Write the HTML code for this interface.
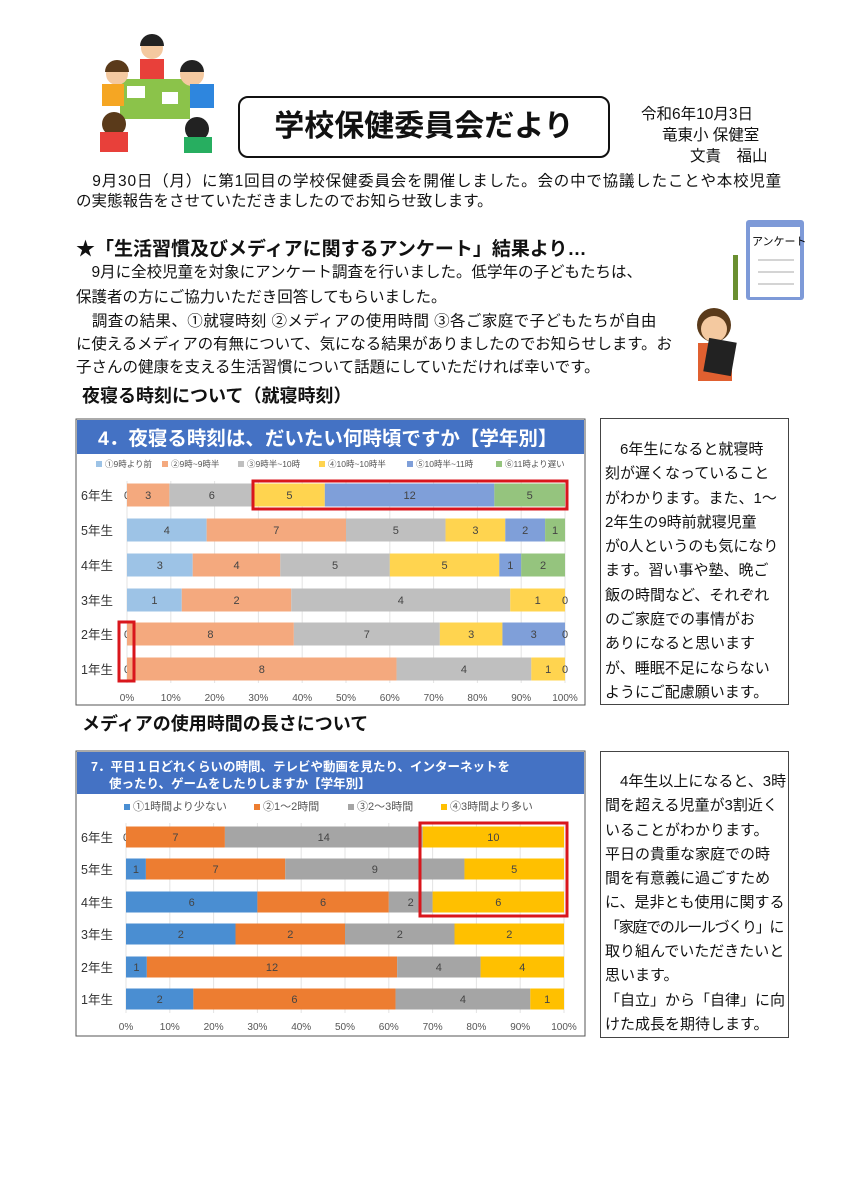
<!DOCTYPE html>
<html><head><meta charset="utf-8">
<style>
body{margin:0;width:849px;height:1200px;background:#fff;position:relative;overflow:hidden;font-family:"Liberation Sans","Noto Sans CJK JP",sans-serif;color:#111}
.t{position:absolute;white-space:nowrap;font-size:15.5px;line-height:20px}
.b{font-weight:bold}
.box{position:absolute;border:1px solid #444;background:#fff}
</style></head><body>
<svg style="position:absolute;left:92px;top:34px" width="130" height="120">
<rect x="28" y="45" width="70" height="40" fill="#8bc34a"/>
<rect x="35" y="52" width="18" height="12" fill="#fff"/><rect x="70" y="58" width="16" height="12" fill="#fff"/>
<circle cx="60" cy="14" r="11" fill="#f4c9a0"/><path d="M48 12a12 12 0 0 1 24 0z" fill="#222"/><rect x="48" y="25" width="24" height="20" fill="#e8403a"/>
<circle cx="25" cy="40" r="11" fill="#f4c9a0"/><path d="M13 38a12 12 0 0 1 24 0z" fill="#5a3a1a"/><rect x="10" y="50" width="22" height="22" fill="#f5a623"/>
<circle cx="100" cy="40" r="12" fill="#f4c9a0"/><path d="M88 38a12 12 0 0 1 24 0z" fill="#222"/><rect x="98" y="50" width="24" height="24" fill="#2e86de"/>
<circle cx="22" cy="90" r="12" fill="#5a3a1a"/><rect x="8" y="98" width="28" height="20" fill="#e8403a"/>
<circle cx="105" cy="95" r="12" fill="#222"/><rect x="92" y="103" width="28" height="16" fill="#27ae60"/>
</svg>
<div style="position:absolute;left:238px;top:96px;width:368px;height:58px;border:2px solid #111;border-radius:10px"></div>
<div class="t b" style="left:238px;top:108px;width:372px;text-align:center;font-size:30px;line-height:38px">学校保健委員会だより</div>
<div class="t" style="left:641px;top:105px">令和6年10月3日</div>
<div class="t" style="left:662px;top:126px">竜東小 保健室</div>
<div class="t" style="left:690px;top:147px">文責　福山</div>
<div class="t" style="left:76px;top:172px;letter-spacing:0.8px">　9月30日（月）に第1回目の学校保健委員会を開催しました。会の中で協議したことや本校児童</div>
<div class="t" style="left:76px;top:192px">の実態報告をさせていただきましたのでお知らせ致します。</div>
<div class="t b" style="left:76px;top:238px;font-size:19px;line-height:24px">★「生活習慣及びメディアに関するアンケート」結果より…</div>
<div class="t" style="left:76px;top:263px">　9月に全校児童を対象にアンケート調査を行いました。低学年の子どもたちは、</div>
<div class="t" style="left:76px;top:288px">保護者の方にご協力いただき回答してもらいました。</div>
<div class="t" style="left:76px;top:312px;letter-spacing:0.4px">　調査の結果、①就寝時刻 ②メディアの使用時間 ③各ご家庭で子どもたちが自由</div>
<div class="t" style="left:76px;top:335px;letter-spacing:-0.1px">に使えるメディアの有無について、気になる結果がありましたのでお知らせします。お</div>
<div class="t" style="left:76px;top:358px">子さんの健康を支える生活習慣について話題にしていただければ幸いです。</div>
<div class="t b" style="left:82px;top:384px;font-size:18px;line-height:24px">夜寝る時刻について（就寝時刻）</div>
<div class="t b" style="left:82px;top:712px;font-size:18px;line-height:24px">メディアの使用時間の長さについて</div>
<svg style="position:absolute;left:686px;top:215px" width="125" height="170">
<rect x="60" y="5" width="58" height="80" rx="3" fill="#7e9ad8"/><rect x="64" y="12" width="50" height="70" fill="#fff"/>
<text x="66" y="30" font-size="11" font-family="Noto Sans CJK JP">アンケート</text>
<line x1="72" y1="45" x2="108" y2="45" stroke="#aaa"/><line x1="72" y1="57" x2="108" y2="57" stroke="#aaa"/><line x1="72" y1="69" x2="108" y2="69" stroke="#aaa"/>
<rect x="47" y="40" width="5" height="45" fill="#6a8f30"/>
<circle cx="28" cy="110" r="17" fill="#5a3a1a"/><circle cx="28" cy="114" r="13" fill="#f4c9a0"/>
<rect x="12" y="128" width="34" height="38" fill="#e06030"/><rect x="20" y="125" width="28" height="34" fill="#222" transform="rotate(10 34 142)"/>
</svg>
<svg style="position:absolute;left:0;top:0" width="849" height="1200" id="s"></svg>
<div class="box" style="left:600px;top:418px;width:187px;height:285px"></div>
<div class="t" style="left:605px;top:438px;line-height:24.3px;font-size:15px">　6年生になると就寝時<br>刻が遅くなっていること<br>がわかります。また、1～<br>2年生の9時前就寝児童<br>が0人というのも気になり<br>ます。習い事や塾、晩ご<br>飯の時間など、それぞれ<br>のご家庭での事情がお<br>ありになると思います<br>が、睡眠不足にならない<br>ようにご配慮願います。</div>
<div class="box" style="left:600px;top:751px;width:187px;height:285px"></div>
<div class="t" style="left:605px;top:770px;line-height:24.3px;font-size:15px">　4年生以上になると、3時<br>間を超える児童が3割近く<br>いることがわかります。<br>平日の貴重な家庭での時<br>間を有意義に過ごすため<br>に、是非とも使用に関する<br><span style="letter-spacing:-1.3px">「家庭でのルールづくり」に</span><br>取り組んでいただきたいと<br>思います。<br>「自立」から「自律」に向<br>けた成長を期待します。</div>
<script>
var s=document.getElementById('s'),h='';
function R(x,y,w,hh,f,st,sw){h+='<rect x="'+x+'" y="'+y+'" width="'+w+'" height="'+hh+'" fill="'+(f||'none')+'"'+(st?' stroke="'+st+'" stroke-width="'+(sw||3)+'"':'')+'/>';}
function T(x,y,t,o){o=o||{};h+='<text x="'+x+'" y="'+y+'" font-size="'+(o.fs||11)+'" fill="'+(o.c||'#333')+'" text-anchor="'+(o.a||'middle')+'"'+(o.b?' font-weight="bold"':'')+' font-family="Liberation Sans,Noto Sans CJK JP,sans-serif">'+t+'</text>';}
function chart(o){
 R(o.bx,o.by,509,o.bh,'#fff','#555',1);
 R(o.bx+1,o.by+1,507,o.hh,'#4472c4');
 o.title.forEach(function(t,i){T(o.tx[i],o.ty[i],t,{fs:o.tfs,c:'#fff',a:'start',b:1});});
 o.leg.forEach(function(l,i){R(l[0],o.ly-5,6,6,o.col[i]);T(l[0]+9,o.ly+1,l[1],{fs:o.lfs,c:'#555',a:'start'});});
 for(var k=0;k<=10;k++){var x=o.x0+(o.x1-o.x0)*k/10;h+='<line x1="'+x+'" y1="'+(o.rows[0]-14)+'" x2="'+x+'" y2="'+(o.rows[5]+14)+'" stroke="#e3e3e3"/>';T(x,o.ay,k*10+'%',{fs:10,c:'#555'});}
 o.data.forEach(function(d,r){var tot=d.reduce(function(a,b){return a+b},0),acc=0,y=o.rows[r];
  T(o.bx+5,y+5,o.lab[r],{fs:12.5,a:'start'});
  d.forEach(function(v,i){var xa=o.x0+(o.x1-o.x0)*acc/tot;acc+=v;var xb=o.x0+(o.x1-o.x0)*acc/tot;
   if(v>0)R(xa,y-o.bh2/2,xb-xa,o.bh2,o.col[i]);
   T(v>0?(xa+xb)/2:xa,y+4,v,{fs:11,c:'#444'});});
 });
 o.red.forEach(function(b){R(b[0],b[1],b[2],b[3],'none','#d9161c');});
}
chart({bx:76,by:419,bh:286,hh:34,title:['4．夜寝る時刻は、だいたい何時頃ですか【学年別】'],tx:[98],ty:[445],tfs:19.5,
 leg:[[96,'①9時より前'],[162,'②9時~9時半'],[238,'③9時半~10時'],[319,'④10時~10時半'],[407,'⑤10時半~11時'],[496,'⑥11時より遅い']],ly:466,lfs:8.5,
 col:['#9dc3e6','#f4a97e','#bfbfbf','#ffd44f','#7f9fd9','#95c47e'],
 x0:127,x1:565,rows:[495,530,565,600,634,669],bh2:23,ay:701,lab:['6年生','5年生','4年生','3年生','2年生','1年生'],
 data:[[0,3,6,5,12,5],[4,7,5,3,2,1],[3,4,5,5,1,2],[1,2,4,1,0],[0,8,7,3,3,0],[0,8,4,1,0]],
 red:[[253,481,314,28],[119,622,15,59]]});
chart({bx:76,by:751,bh:285,hh:42,title:['7．平日１日どれくらいの時間、テレビや動画を見たり、インターネットを','使ったり、ゲームをしたりしますか【学年別】'],tx:[91,109],ty:[771,788],tfs:12.5,
 leg:[[124,'①1時間より少ない'],[254,'②1～2時間'],[348,'③2～3時間'],[441,'④3時間より多い']],ly:809,lfs:11,
 col:['#4a8ed2','#ed7d31','#a5a5a5','#ffc000'],
 x0:126,x1:564,rows:[837,869,902,934,967,999],bh2:21,ay:1030,lab:['6年生','5年生','4年生','3年生','2年生','1年生'],
 data:[[0,7,14,10],[1,7,9,5],[6,6,2,6],[2,2,2,2],[1,12,4,4],[2,6,4,1]],
 red:[[420,823,147,93]]});
s.innerHTML=h;
</script>
</body></html>
